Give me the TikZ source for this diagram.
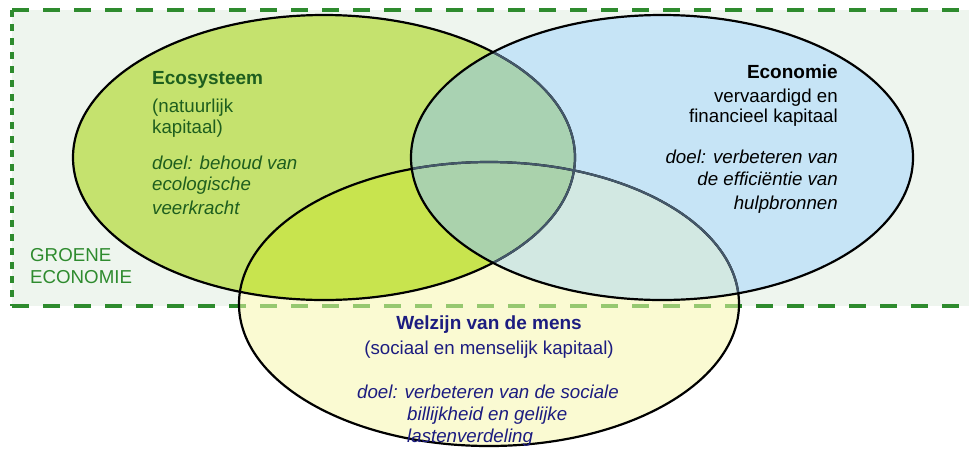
\documentclass[tikz,border=0pt]{standalone}
\usepackage{fontspec}
\setmainfont{Liberation Sans}
\definecolor{bgrect}{HTML}{EEF5EE}
\definecolor{ecofill}{HTML}{C5E26E}
\definecolor{ecnfill}{HTML}{C6E4F6}
\definecolor{welfill}{HTML}{FAFAD2}
\definecolor{ecoecn}{HTML}{A9D2B2}
\definecolor{ecowel}{HTML}{C8E44E}
\definecolor{ecnwel}{HTML}{D2E8E2}
\definecolor{allthree}{HTML}{AAD2AC}
\definecolor{dashgreen}{HTML}{2E8B2E}
\definecolor{dashlight}{HTML}{96C870}
\definecolor{ecotext}{HTML}{1E5E1E}
\definecolor{weltext}{HTML}{1C1C80}
\definecolor{covered}{HTML}{44586A}
\newcommand{\ellEco}{(324,157.5) ellipse [x radius=251, y radius=142.5]}
\newcommand{\ellEcn}{(662,157.5) ellipse [x radius=251, y radius=142.5]}
\newcommand{\ellWel}{(489,304) ellipse [x radius=250, y radius=142]}
\tikzset{
  txt/.style={inner sep=0pt, font=\fontsize{18.7}{22}\selectfont},
  boldtxt/.style={inner sep=0pt, font=\fontsize{19}{22}\selectfont\bfseries},
  ittxt/.style={inner sep=0pt, font=\fontsize{18.7}{22}\selectfont\itshape},
  outline/.style={draw=black, line width=2.2pt},
  coveredline/.style={draw=covered, line width=2.2pt},
  borderdash/.style={line width=3.5pt, dash pattern=on 17pt off 14pt},
  borderdashv/.style={line width=3.5pt, dash pattern=on 7pt off 7pt}
}
\begin{document}
\begin{tikzpicture}[x=1pt,y=-1pt]
\useasboundingbox (0,0) rectangle (969,448);
% green economy frame
\fill[bgrect] (12,10) rectangle (980,306);
\coordinate (tl) at (12,10);
\coordinate (tr) at (980,10);
\coordinate (bl) at (12,306);
\coordinate (br) at (980,306);
\draw[dashgreen, borderdash] (tl) -- (tr);
\draw[dashgreen, borderdash] (bl) -- (br);
\draw[dashgreen, borderdashv] (tl) -- (bl);
% fills
\fill[ecofill] \ellEco;
\fill[welfill] \ellWel;
\fill[ecnfill] \ellEcn;
\begin{scope}
  \clip \ellEco;
  \fill[ecoecn] \ellEcn;
  \fill[ecowel] \ellWel;
  \clip \ellEcn;
  \fill[allthree] \ellWel;
\end{scope}
\begin{scope}
  \clip \ellEcn;
  \clip \ellWel;
  \fill[ecnwel] (420,150) rectangle (760,310);
  \clip \ellEco;
  \fill[allthree] (380,150) rectangle (760,310);
\end{scope}
% dashed line seen through the yellow ellipse
\begin{scope}
  \clip \ellWel;
  \draw[dashlight, borderdash] (bl) -- (br);
\end{scope}
% outlines
\draw[outline] \ellEco;
\draw[outline] \ellWel;
\begin{scope}
  \clip \ellEcn;
  \draw[coveredline] \ellEco;
  \draw[coveredline] \ellWel;
\end{scope}
\draw[outline] \ellEcn;
% Ecosysteem texts
\node[boldtxt, anchor=base west, text=ecotext] (eco1) at (152,84) {Ecosysteem};
\node[txt, anchor=base west, text=ecotext] (eco2) at (152,112) {(natuurlijk};
\node[txt, anchor=base west, text=ecotext] (eco3) at (152,133) {kapitaal)};
\node[ittxt, anchor=base west, text=ecotext] (eco4) at (152,169) {doel: behoud van};
\node[ittxt, anchor=base west, text=ecotext] (eco5) at (152,190) {ecologische};
\node[ittxt, anchor=base west, text=ecotext] (eco6) at (152,214) {veerkracht};
% Economie texts
\node[boldtxt, anchor=base east] (ecn1) at (838,78) {Economie};
\node[txt, anchor=base east] (ecn2) at (838,102) {vervaardigd en};
\node[txt, anchor=base east] (ecn3) at (838,122) {financieel kapitaal};
\node[ittxt, anchor=base east] (ecn4) at (838,163) {doel: verbeteren van};
\node[ittxt, anchor=base east] (ecn5) at (838,185) {de efficiëntie van};
\node[ittxt, anchor=base east] (ecn6) at (838,209) {hulpbronnen};
% Welzijn texts
\node[boldtxt, anchor=base, text=weltext] (wel1) at (489,329) {Welzijn van de mens};
\node[txt, anchor=base, text=weltext] (wel2) at (489,354) {(sociaal en menselijk kapitaal)};
\node[ittxt, anchor=base west, text=weltext] (wel3) at (357,398) {doel: verbeteren van de sociale};
\node[ittxt, anchor=base west, text=weltext] (wel4) at (407,420) {billijkheid en gelijke};
\node[ittxt, anchor=base west, text=weltext] (wel5) at (407,442) {lastenverdeling};
% frame label
\node[txt, anchor=base west, text=dashgreen] (green1) at (30,261) {GROENE};
\node[txt, anchor=base west, text=dashgreen] (green2) at (30,283) {ECONOMIE};
\end{tikzpicture}
\end{document}
